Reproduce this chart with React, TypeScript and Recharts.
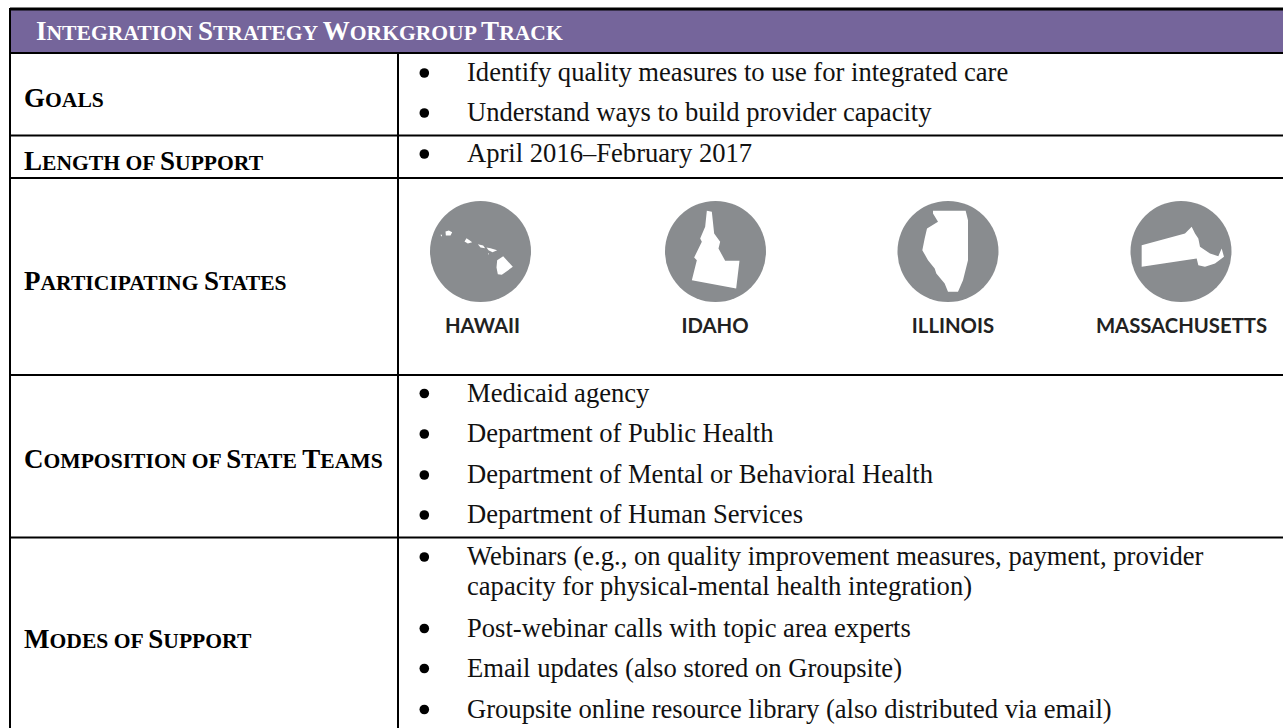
import React from 'react';
import {
  ComposedChart,
  Scatter,
  XAxis,
  YAxis,
  ReferenceArea,
  ReferenceLine,
} from 'recharts';

const WIDTH = 1283;
const HEIGHT = 728;
const SERIF = '"Liberation Serif", "Times New Roman", serif';
const LABEL_FONT = 'Lato, "Open Sans", sans-serif';

const title = 'Integration Strategy Workgroup Track';
const rowLabels = [
  'Goals',
  'Length of Support',
  'Participating States',
  'Composition of State Teams',
  'Modes of Support',
];
const goals = [
  'Identify quality measures to use for integrated care',
  'Understand ways to build provider capacity',
];
const lengthOfSupport = ['April 2016–February 2017'];
const teams = [
  'Medicaid agency',
  'Department of Public Health',
  'Department of Mental or Behavioral Health',
  'Department of Human Services',
];
const modes = [
  'Webinars (e.g., on quality improvement measures, payment, provider',
  'capacity for physical-mental health integration)',
  'Post-webinar calls with topic area experts',
  'Email updates (also stored on Groupsite)',
  'Groupsite online resource library (also distributed via email)',
];
const states = ['HAWAII', 'IDAHO', 'ILLINOIS', 'MASSACHUSETTS'];

// layout, in page pixels (text values are baselines)
const rowLines = [53, 135.5, 178, 375, 537.5];
const labelYs = [107, 170, 290, 468, 648];
const goalYs = [81, 121];
const lengthYs = [162];
const teamYs = [401.5, 442, 483, 523];
const modeYs = [565, 595, 636.5, 676.5, 717.5];
const stateXs = [480.5, 715.5, 948, 1181];
const stateLabelXs = [482.5, 715, 953, 1181.5];
const STATE_Y = 251.5;
const LEFT = 10;
const DIVIDER = 398;

const bodyLines = [...goals, ...lengthOfSupport, ...teams, ...modes];
const bodyYs = [...goalYs, ...lengthYs, ...teamYs, ...modeYs];
const continuation = modes[1];

const labelPoints = rowLabels.map((text, i) => ({ x: 24, y: labelYs[i], text }));
const bodyPoints = bodyLines.map((text, i) => ({ x: 467, y: bodyYs[i], text }));
const statePoints = states.map((text, i) => ({
  x: stateXs[i],
  y: STATE_Y,
  text,
  labelOffset: stateLabelXs[i] - stateXs[i],
}));

// state outlines, drawn at 3x around the centre of each disc
const outlines: Record<string, string> = {
  HAWAII:
    'M-105,-60 L-95,-63 L-85,-58 L-90,-48 L-104,-48 Z M-120,-50 L-115,-50 L-117,-44 Z M-42,-40 L-33,-34 L-25,-28 L-38,-24 L-48,-30 Z M-8,-22 L8,-18 L14,-10 L0,-12 Z M18,-12 L30,-10 L50,-4 L36,2 L24,-4 Z M22,6 L26,6 L24,10 Z M50,26 L68,14 L97,46 L64,70 L52,68 L48,48 Z',
  IDAHO:
    'M-26,-122 L-11,-119 L-4,-54 L14,-29 L9,-9 L29,28 L72,28 L62,111 L-71,86 L-56,26 L-64,18 L-41,-29 L-46,-39 L-31,-74 Z',
  ILLINOIS:
    'M-45,-122 L53,-122 L60,-94 L60,26 L45,86 L30,121 L0,121 L-10,96 L-35,66 L-40,51 L-60,26 L-77,-4 L-70,-39 L-63,-69 L-30,-89 L-45,-114 Z',
  MASSACHUSETTS:
    'M-118,-19 L12,-54 L32,-74 L42,-54 L52,-39 L57,-14 L87,6 L112,14 L122,-9 L129,16 L102,36 L72,46 L52,41 L47,21 L-118,46 Z',
};

// Word-style small caps: capitals at full size, the rest uppercased at 80%
const smallCaps = (text: string) =>
  (text.match(/[A-Z]+|[^A-Z]+/g) || []).map((run, i) =>
    /[A-Z]/.test(run[0]) ? (
      <tspan key={i} fontSize={27}>
        {run}
      </tspan>
    ) : (
      <tspan key={i} fontSize={21.6}>
        {run.toUpperCase()}
      </tspan>
    ),
  );

const TitleShape = ({ cx, cy, payload }: any) => (
  <text x={cx} y={cy} fontFamily={SERIF} fontWeight="bold" fill="#fff">
    {smallCaps(payload.text)}
  </text>
);

const LabelShape = ({ cx, cy, payload }: any) => (
  <text x={cx} y={cy} fontFamily={SERIF} fontWeight="bold" fill="#000">
    {smallCaps(payload.text)}
  </text>
);

const BodyShape = ({ cx, cy, payload }: any) => (
  <g>
    {payload.text !== continuation && <circle cx={cx - 42.7} cy={cy - 8} r={4.8} fill="#000" />}
    <text x={cx} y={cy} fontFamily={SERIF} fontSize={26.6} fill="#111">
      {payload.text}
    </text>
  </g>
);

const StateShape = ({ cx, cy, payload }: any) => (
  <g>
    <circle cx={cx} cy={cy} r={50.5} fill="#898c8f" />
    <path
      d={outlines[payload.text]}
      transform={`translate(${cx},${cy}) scale(0.3333)`}
      fill="#fff"
    />
    <text
      x={cx + payload.labelOffset}
      y={cy + 81.5}
      textAnchor="middle"
      fontFamily={LABEL_FONT}
      fontWeight="bold"
      fontSize={20.3}
      fill="#222"
    >
      {payload.text}
    </text>
  </g>
);

export default function App() {
  return (
    <div style={{ position: 'absolute', left: 0, top: 0, width: WIDTH, height: HEIGHT, background: '#fff' }}>
      <ComposedChart width={WIDTH} height={HEIGHT} margin={{ top: 0, right: 0, bottom: 0, left: 0 }}>
        <XAxis type="number" dataKey="x" domain={[0, WIDTH]} hide />
        <YAxis type="number" dataKey="y" domain={[0, HEIGHT]} reversed hide />
        <ReferenceArea x1={LEFT} x2={WIDTH} y1={9} y2={53} fill="#75659b" fillOpacity={1} stroke="none" />
        <ReferenceLine segment={[{ x: LEFT, y: 9 }, { x: WIDTH, y: 9 }]} stroke="#000" strokeWidth={3} />
        {rowLines.map((y) => (
          <ReferenceLine
            key={y}
            segment={[{ x: LEFT, y }, { x: WIDTH, y }]}
            stroke="#000"
            strokeWidth={2}
          />
        ))}
        <ReferenceLine segment={[{ x: LEFT, y: 8 }, { x: LEFT, y: HEIGHT }]} stroke="#000" strokeWidth={2} />
        <ReferenceLine segment={[{ x: DIVIDER, y: 53 }, { x: DIVIDER, y: HEIGHT }]} stroke="#000" strokeWidth={2} />
        <Scatter data={[{ x: 36, y: 40, text: title }]} isAnimationActive={false} shape={TitleShape} />
        <Scatter data={labelPoints} isAnimationActive={false} shape={LabelShape} />
        <Scatter data={bodyPoints} isAnimationActive={false} shape={BodyShape} />
        <Scatter data={statePoints} isAnimationActive={false} shape={StateShape} />
      </ComposedChart>
    </div>
  );
}
